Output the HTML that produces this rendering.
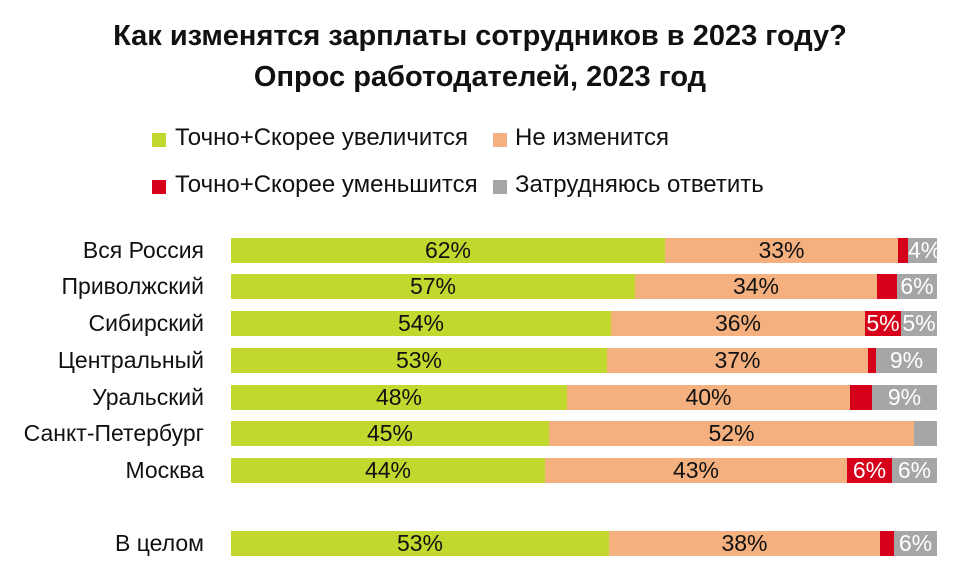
<!DOCTYPE html>
<html><head><meta charset="utf-8"><style>
body{margin:0;width:960px;height:585px;background:#fff;position:relative;overflow:hidden;font-family:"Liberation Sans Narrow","Liberation Sans","Noto Sans CJK SC",sans-serif;color:#111}
.t{position:absolute;left:0;width:960px;text-align:center;font-weight:bold;font-size:29px;white-space:nowrap}
.lg{position:absolute;font-size:24px;white-space:nowrap}
.sq{position:absolute;width:14px;height:14px}
.lab{position:absolute;right:756px;font-size:23px;white-space:nowrap;line-height:24px}
.s{position:absolute;height:25px;font-size:23px;line-height:25px;text-align:center;overflow:visible;white-space:nowrap}
.g{background:#c3d82f}.o{background:#f5b07f}.r{background:#d7001b;color:#fff}.y{background:#a6a6a6;color:#fff}
</style></head><body>
<div class="t" style="top:20px">Как изменятся зарплаты сотрудников в 2023 году?</div>
<div class="t" style="top:61px">Опрос работодателей, 2023 год</div>
<div class="sq g" style="left:152px;top:133px"></div><div class="lg" style="left:175px;top:124px">Точно+Скорее увеличится</div>
<div class="sq o" style="left:493px;top:133px"></div><div class="lg" style="left:515px;top:124px">Не изменится</div>
<div class="sq r" style="left:152px;top:180px"></div><div class="lg" style="left:175px;top:171px">Точно+Скорее уменьшится</div>
<div class="sq y" style="left:493px;top:180px"></div><div class="lg" style="left:515px;top:171px">Затрудняюсь ответить</div>

<div class="lab" style="top:238px">Вся Россия</div>
<div class="s g" style="top:238px;left:231px;width:434px">62%</div><div class="s o" style="top:238px;left:665px;width:233px">33%</div><div class="s r" style="top:238px;left:898px;width:10px"></div><div class="s y" style="top:238px;left:908px;width:29px">4%</div>

<div class="lab" style="top:274px">Приволжский</div>
<div class="s g" style="top:274px;left:231px;width:404px">57%</div><div class="s o" style="top:274px;left:635px;width:242px">34%</div><div class="s r" style="top:274px;left:877px;width:20px"></div><div class="s y" style="top:274px;left:897px;width:40px">6%</div>

<div class="lab" style="top:311px">Сибирский</div>
<div class="s g" style="top:311px;left:231px;width:380px">54%</div><div class="s o" style="top:311px;left:611px;width:254px">36%</div><div class="s r" style="top:311px;left:865px;width:36px">5%</div><div class="s y" style="top:311px;left:901px;width:36px">5%</div>

<div class="lab" style="top:348px">Центральный</div>
<div class="s g" style="top:348px;left:231px;width:376px">53%</div><div class="s o" style="top:348px;left:607px;width:261px">37%</div><div class="s r" style="top:348px;left:868px;width:8px"></div><div class="s y" style="top:348px;left:876px;width:61px">9%</div>

<div class="lab" style="top:385px">Уральский</div>
<div class="s g" style="top:385px;left:231px;width:336px">48%</div><div class="s o" style="top:385px;left:567px;width:283px">40%</div><div class="s r" style="top:385px;left:850px;width:22px"></div><div class="s y" style="top:385px;left:872px;width:65px">9%</div>

<div class="lab" style="top:421px">Санкт-Петербург</div>
<div class="s g" style="top:421px;left:231px;width:318px">45%</div><div class="s o" style="top:421px;left:549px;width:365px">52%</div><div class="s y" style="top:421px;left:914px;width:23px"></div>

<div class="lab" style="top:458px">Москва</div>
<div class="s g" style="top:458px;left:231px;width:314px">44%</div><div class="s o" style="top:458px;left:545px;width:302px">43%</div><div class="s r" style="top:458px;left:847px;width:45px">6%</div><div class="s y" style="top:458px;left:892px;width:45px">6%</div>

<div class="lab" style="top:531px">В целом</div>
<div class="s g" style="top:531px;left:231px;width:378px">53%</div><div class="s o" style="top:531px;left:609px;width:271px">38%</div><div class="s r" style="top:531px;left:880px;width:14px"></div><div class="s y" style="top:531px;left:894px;width:43px">6%</div>
</body></html>
